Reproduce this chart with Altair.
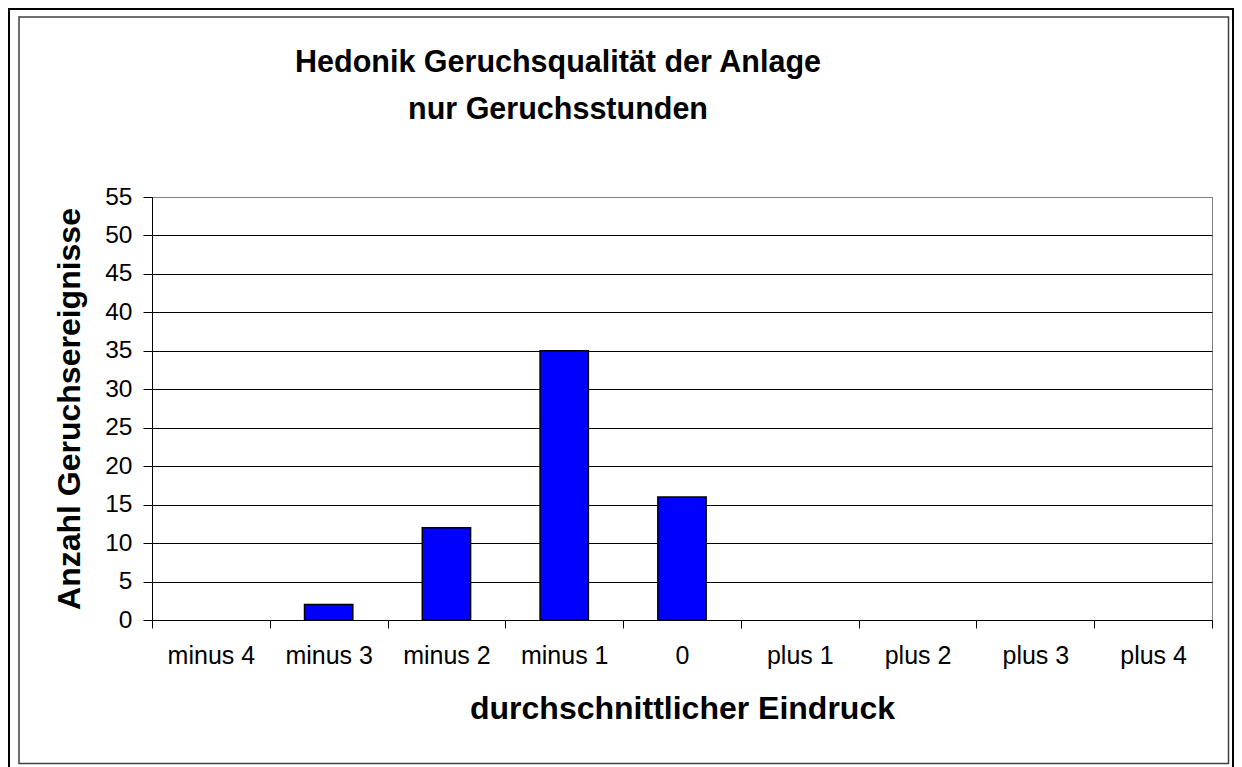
import altair as alt
import pandas as pd

categories = ["minus 4", "minus 3", "minus 2", "minus 1", "0",
              "plus 1", "plus 2", "plus 3", "plus 4"]
counts = [0, 2, 12, 35, 16, 0, 0, 0, 0]
y_ticks = list(range(0, 56, 5))
title_lines = ["Hedonik Geruchsqualität der Anlage", "nur Geruchsstunden"]
x_title = "durchschnittlicher Eindruck"
y_title = "Anzahl Geruchsereignisse"

df = pd.DataFrame({"cat": categories, "n": counts})
deco = pd.DataFrame({"k": [0]})
FONT = "Liberation Sans, Arial, sans-serif"

W, H = 1060, 423

outer = alt.Chart(deco).mark_rect(
    fillOpacity=0, stroke="black", strokeWidth=2
).encode(x=alt.value(-143), x2=alt.value(1081),
         y=alt.value(-188), y2=alt.value(620))

inner = alt.Chart(deco).mark_rect(
    fillOpacity=0, stroke="#404040", strokeWidth=1.5
).encode(x=alt.value(-133), x2=alt.value(1076.5),
         y=alt.value(-180), y2=alt.value(566.5))

bars = alt.Chart(df).mark_bar(
    width={"band": 0.41}, color="#0000FF", stroke="black", strokeWidth=1.5
).encode(
    x=alt.X("cat:N", sort=categories,
            scale=alt.Scale(paddingInner=0, paddingOuter=0),
            axis=alt.Axis(title=x_title, labelAngle=0, tickBand="extent",
                          tickSize=8, tickColor="black", domainColor="black",
                          labelFontSize=25, labelColor="black", labelPadding=15,
                          labelFont=FONT, titleFont=FONT, titleFontSize=32,
                          titleFontWeight="bold", titleColor="black",
                          titlePadding=25, grid=False)),
    y=alt.Y("n:Q", scale=alt.Scale(domain=[0, 55], nice=False),
            axis=alt.Axis(title=y_title, values=y_ticks, tickSize=9,
                          tickColor="black", domainColor="black",
                          labelFontSize=24.5, labelColor="black",
                          labelPadding=11, labelFont=FONT, titleFont=FONT,
                          titleFontSize=32, titleFontWeight="bold",
                          titleColor="black", titlePadding=18,
                          grid=True, gridWidth=1,
                          gridColor={"condition": {"test": "datum.value == 55",
                                                   "value": "#808080"},
                                     "value": "black"})),
    strokeOpacity=alt.condition("datum.n > 0", alt.value(1), alt.value(0)),
)

chart = alt.layer(outer, inner, bars).properties(
    width=W, height=H,
    autosize=alt.AutoSizeParams(type="none"),
    padding={"left": 144, "top": 189, "right": 22, "bottom": 147},
    title=alt.TitleParams(text=title_lines, fontSize=30.5, fontWeight="bold",
                          font=FONT, anchor="middle", frame="group", dx=-124,
                          offset=-117, lineHeight=47, color="black"),
    background="white",
).configure_view(stroke="#808080", strokeWidth=1)

chart.save("out.html", embed_options={"renderer": "svg", "actions": False})
